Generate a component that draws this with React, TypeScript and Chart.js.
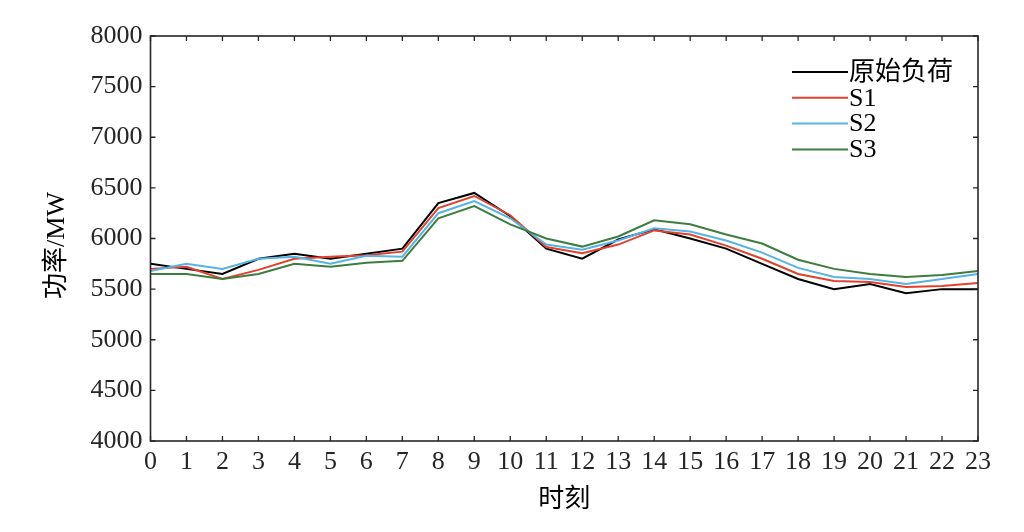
import React, { useEffect, useRef } from "react";
import { Chart, registerables } from "chart.js";

Chart.register(...registerables);

const hours: string[] = Array.from({ length: 24 }, (_, i) => String(i));
const seriesNames: string[] = ["原始负荷", "S1", "S2", "S3"];
const seriesColors: string[] = ["#000000", "#e2412d", "#56b4e4", "#3d7d3f"];

const baseLoad: number[] = [5750, 5700, 5650, 5800, 5850, 5800, 5850, 5900, 6350, 6450, 6220, 5900, 5800, 5990, 6090, 6000, 5900, 5750, 5600, 5500, 5550, 5460, 5500, 5500];
const s1: number[] = [5700, 5720, 5600, 5690, 5800, 5820, 5835, 5870, 6300, 6420, 6230, 5915, 5855, 5940, 6080, 6040, 5930, 5800, 5650, 5580, 5570, 5520, 5530, 5560];
const s2: number[] = [5680, 5750, 5700, 5800, 5820, 5750, 5830, 5820, 6250, 6370, 6200, 5940, 5890, 5980, 6100, 6070, 5980, 5860, 5710, 5620, 5600, 5550, 5600, 5650];
const s3: number[] = [5650, 5650, 5600, 5650, 5750, 5720, 5760, 5780, 6200, 6320, 6140, 6000, 5920, 6020, 6180, 6140, 6040, 5950, 5790, 5700, 5650, 5620, 5640, 5680];

const yMin = 4000;
const yMax = 8000;
const yStep = 500;
const xTitle = "时刻";
const yTitle = "功率/MW";

const FONT = '"Liberation Serif", "Times New Roman", "Noto Sans CJK SC", serif';
const AXIS_COLOR = "#262626";

const framePlugin = {
  id: "matlabFrame",
  afterDatasetsDraw(chart: any) {
    const { ctx, chartArea } = chart;
    const { left, right, top, bottom } = chartArea;
    const xs = chart.scales.x;
    const ys = chart.scales.y;
    ctx.save();
    ctx.strokeStyle = AXIS_COLOR;
    ctx.lineWidth = 1.6;
    ctx.strokeRect(left, top, right - left, bottom - top);
    ctx.lineWidth = 1.3;
    const tl = 5;
    ctx.beginPath();
    xs.ticks.forEach((_t: any, i: number) => {
      const px = xs.getPixelForTick(i);
      ctx.moveTo(px, bottom);
      ctx.lineTo(px, bottom - tl);
      ctx.moveTo(px, top);
      ctx.lineTo(px, top + tl);
    });
    ys.ticks.forEach((t: any) => {
      const py = ys.getPixelForValue(t.value);
      ctx.moveTo(left, py);
      ctx.lineTo(left + tl, py);
      ctx.moveTo(right, py);
      ctx.lineTo(right - tl, py);
    });
    ctx.stroke();

    // Legend
    const lx0 = right - 186;
    const lx1 = right - 130;
    const ly0 = top + 36;
    const dy = 25.8;
    ctx.font = `26px ${FONT}`;
    ctx.textBaseline = "middle";
    ctx.textAlign = "left";
    chart.data.datasets.forEach((ds: any, i: number) => {
      const y = ly0 + i * dy;
      ctx.strokeStyle = ds.borderColor;
      ctx.lineWidth = 2;
      ctx.beginPath();
      ctx.moveTo(lx0, y);
      ctx.lineTo(lx1, y);
      ctx.stroke();
      ctx.fillStyle = "#000000";
      ctx.fillText(ds.label, lx1 + 1, y + 1);
    });

    // Axis titles
    ctx.fillStyle = "#000000";
    ctx.font = `26px ${FONT}`;
    ctx.textAlign = "center";
    ctx.textBaseline = "middle";
    ctx.fillText(xTitle, (left + right) / 2, 500);
    ctx.save();
    ctx.translate(57, (top + bottom) / 2 + 7);
    ctx.rotate(-Math.PI / 2);
    ctx.fillText(yTitle, 0, 0);
    ctx.restore();
    ctx.restore();
  },
};

export default function App() {
  const canvasRef = useRef<HTMLCanvasElement | null>(null);

  useEffect(() => {
    const canvas = canvasRef.current;
    if (!canvas) return;
    const allSeries = [baseLoad, s1, s2, s3];
    const chart = new Chart(canvas, {
      type: "line",
      data: {
        labels: hours,
        datasets: allSeries.map((d, i) => ({
          label: seriesNames[i],
          data: d,
          borderColor: seriesColors[i],
          backgroundColor: seriesColors[i],
          borderWidth: 2,
          pointRadius: 0,
          tension: 0,
          fill: false,
          order: 4 - i,
        })),
      },
      options: {
        responsive: false,
        animation: false,
        events: [],
        layout: { padding: { left: 0, right: 46, top: 36, bottom: 0 } },
        plugins: {
          legend: { display: false },
          tooltip: { enabled: false },
          title: { display: false },
        },
        scales: {
          x: {
            type: "category",
            offset: false,
            grid: { display: false, drawTicks: false },
            border: { display: false },
            ticks: {
              padding: 6,
              color: AXIS_COLOR,
              font: { family: FONT, size: 26 },
              maxRotation: 0,
              autoSkip: false,
            },
            afterFit: (scale: any) => {
              scale.height = 91;
            },
          },
          y: {
            type: "linear",
            min: yMin,
            max: yMax,
            grid: { display: false, drawTicks: false },
            border: { display: false },
            ticks: {
              stepSize: yStep,
              padding: 8,
              color: AXIS_COLOR,
              font: { family: FONT, size: 26 },
              callback: (v: any) => String(v),
            },
            afterFit: (scale: any) => {
              scale.width = 150.5;
            },
          },
        },
      },
      plugins: [framePlugin],
    });
    return () => chart.destroy();
  }, []);

  return (
    <div style={{ position: "absolute", left: 0, top: 0, width: 1024, height: 532, background: "#ffffff" }}>
      <canvas ref={canvasRef} width={1024} height={532} style={{ display: "block" }} />
    </div>
  );
}
